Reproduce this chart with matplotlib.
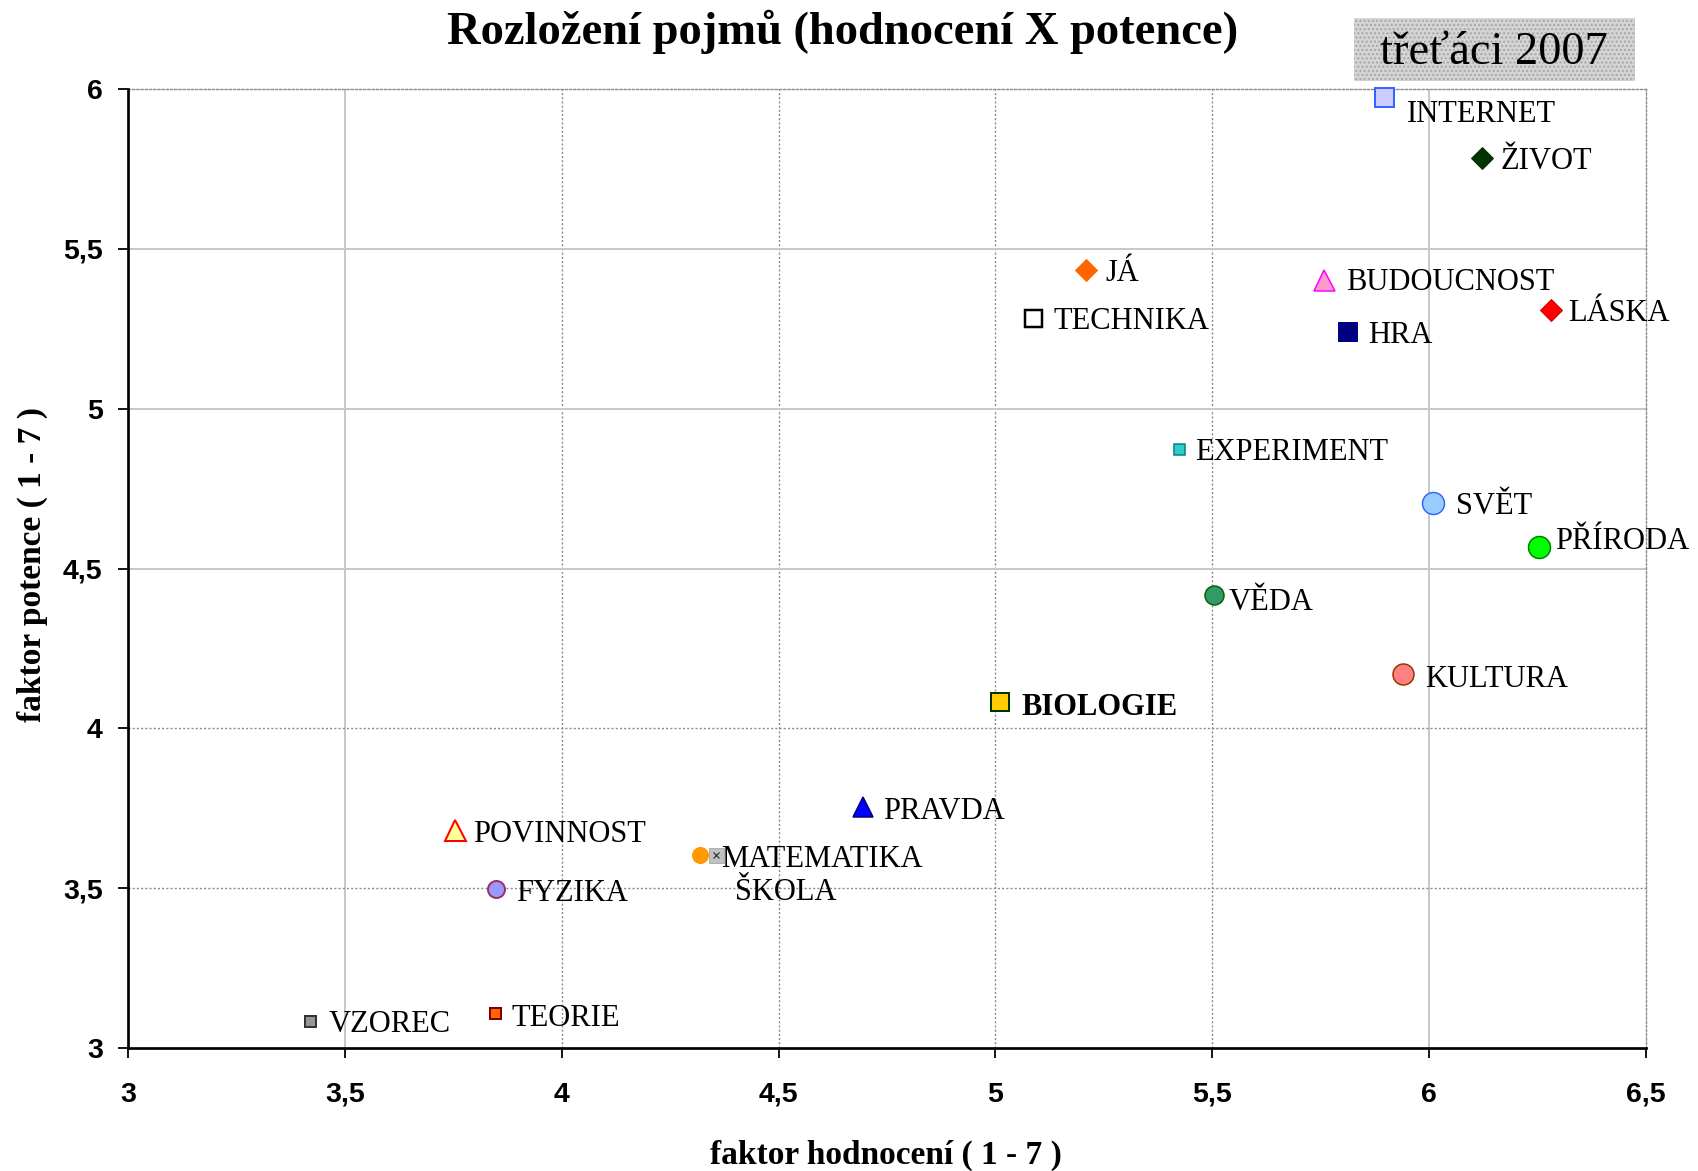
import matplotlib
matplotlib.use("Agg")
import matplotlib.pyplot as plt
from matplotlib.patches import Rectangle

# pojmy, faktor hodnoceni (x) a faktor potence (y)
concepts = ["INTERNET", "ŽIVOT", "JÁ", "TECHNIKA", "BUDOUCNOST", "LÁSKA", "HRA",
            "EXPERIMENT", "SVĚT", "PŘÍRODA", "VĚDA", "KULTURA", "BIOLOGIE",
            "PRAVDA", "POVINNOST", "MATEMATIKA", "ŠKOLA", "FYZIKA", "VZOREC", "TEORIE"]
hodnoceni = [5.895, 6.123, 5.208, 5.086, 5.758, 6.280, 5.810,
             5.423, 6.008, 6.253, 5.503, 5.940, 5.011,
             4.694, 3.754, 4.319, 4.355, 3.849, 3.420, 3.847]
potence = [5.976, 5.783, 5.434, 5.285, 5.403, 5.308, 5.244,
           4.875, 4.705, 4.566, 4.417, 4.169, 4.081,
           3.753, 3.681, 3.603, 3.603, 3.498, 3.085, 3.108]

x_ticks = [3, 3.5, 4, 4.5, 5, 5.5, 6, 6.5]
x_tick_labels = ["3", "3,5", "4", "4,5", "5", "5,5", "6", "6,5"]
y_ticks = [3, 3.5, 4, 4.5, 5, 5.5, 6]
y_tick_labels = ["3", "3,5", "4", "4,5", "5", "5,5", "6"]

title = "Rozložení pojmů (hodnocení X potence)"
subtitle = "třeťáci 2007"
x_label = "faktor hodnocení ( 1 - 7 )"
y_label = "faktor potence ( 1 - 7 )"

# marker look: (marker, size in px, face, edge, edge width px)
styles = [
    ("s", 19, "#ccccff", "#3366ff", 2.0),
    ("D", 15, "#003300", "#003300", 1.0),
    ("D", 15, "#ff6600", "#ff6600", 1.0),
    ("s", 17, "#ffffff", "#000000", 2.5),
    ("^", 21, "#ff99cc", "#ff00ff", 1.5),
    ("D", 15, "#ff0000", "#cc0000", 1.0),
    ("s", 19, "#000080", "#000080", 1.0),
    ("s", 11, "#33cccc", "#008080", 1.5),
    ("o", 22, "#99ccff", "#3366ff", 1.5),
    ("o", 22, "#00ff00", "#008000", 1.5),
    ("o", 19, "#339966", "#006600", 1.5),
    ("o", 21, "#ff8080", "#993300", 1.5),
    ("s", 18, "#ffcc00", "#003300", 2.0),
    ("^", 20, "#0000ff", "#000080", 1.5),
    ("^", 21, "#ffff99", "#ff0000", 2.0),
    ("o", 16, "#ff9900", "#ff9900", 1.0),
    ("s", 15, "#c0c0c0", "#b0b0b0", 1.0),
    ("o", 17, "#9999ff", "#993366", 2.0),
    ("s", 11, "#969696", "#333333", 2.0),
    ("s", 11, "#ff6600", "#800000", 2.0),
]
# label offsets from marker centre in pixels (dx, dy of the visual centre)
label_offsets = [(23, -15), (18, 0), (20, -1), (21, -1), (22, 0), (18, 0), (21, -2),
                 (16, -1), (23, -1), (16, 9), (15, -4), (22, -2), (21, -2),
                 (20, -1), (18, -1), (21, -1), (19, -34), (20, -2), (18, -1), (16, -2)]

px = 72 / 100  # px -> pt at dpi 100

fig = plt.figure(figsize=(16.99, 11.71), dpi=100)
ax = fig.add_axes([128 / 1699, 1 - 1048 / 1171, 1518 / 1699, 959 / 1171])
ax.set_xlim(3, 6.5)
ax.set_ylim(3, 6)

# gridlines, some look solid light gray, others dotted
x_grid_solid = {3.5: True, 4: False, 4.5: False, 5: False, 5.5: False, 6: True}
y_grid_solid = {3.5: False, 4: False, 4.5: True, 5: True, 5.5: True}
for xv, solid in x_grid_solid.items():
    if solid:
        ax.axvline(xv, color="#c8c8c8", lw=2 * px, zorder=1)
    else:
        ax.axvline(xv, color="#8c8c8c", lw=1.4 * px, ls=(0, (1.5, 1.5)), zorder=1)
for yv, solid in y_grid_solid.items():
    if solid:
        ax.axhline(yv, color="#c8c8c8", lw=2 * px, zorder=1)
    else:
        ax.axhline(yv, color="#8c8c8c", lw=1.4 * px, ls=(0, (1.5, 1.5)), zorder=1)

for side in ["top", "right"]:
    ax.spines[side].set_color("#8c8c8c")
    ax.spines[side].set_linewidth(1.4 * px)
    ax.spines[side].set_linestyle((0, (1.5, 1.5)))
for side in ["left", "bottom"]:
    ax.spines[side].set_color("black")
    ax.spines[side].set_linewidth(2.7 * px)
    ax.spines[side].set_zorder(5)

for i, name in enumerate(concepts):
    m, size, face, edge, ew = styles[i]
    ax.plot(hodnoceni[i], potence[i], marker=m, markersize=size * px,
            markerfacecolor=face, markeredgecolor=edge, markeredgewidth=ew * px,
            ls="none", clip_on=False, zorder=4)
    if name == "ŠKOLA":
        # small x pattern inside the gray square
        ax.plot(hodnoceni[i], potence[i], marker="x", markersize=6 * px,
                color="#333333", markeredgewidth=1.2 * px, ls="none", zorder=4)
    dx, dy = label_offsets[i]
    ax.annotate(name, (hodnoceni[i], potence[i]), xytext=(dx, dy - 10.5),
                textcoords="offset pixels", ha="left", va="baseline",
                family="Liberation Serif", fontsize=22,
                fontweight="bold" if name == "BIOLOGIE" else "normal",
                zorder=6, annotation_clip=False)

ax.set_xticks(x_ticks)
ax.set_xticklabels(x_tick_labels)
ax.set_yticks(y_ticks)
ax.set_yticklabels(y_tick_labels)
ax.tick_params(axis="both", direction="out", length=10 * px, width=1.8 * px,
               labelsize=20.5)
ax.tick_params(axis="x", pad=17)
ax.tick_params(axis="y", pad=11)
for lab in ax.get_xticklabels() + ax.get_yticklabels():
    lab.set_family("Liberation Sans")
    lab.set_fontweight("bold")

fig.text(843 / 1699, 1 - 44 / 1171, title, ha="center", va="baseline",
         family="Liberation Serif", fontweight="bold", fontsize=33.5)
fig.text(886 / 1699, 1 - 1155 / 1171, x_label, ha="center", va="center",
         family="Liberation Serif", fontweight="bold", fontsize=24)
fig.text(32 / 1699, 1 - 565 / 1171, y_label, ha="center", va="center",
         rotation=90, family="Liberation Serif", fontweight="bold", fontsize=24)

# gray box with the group name
box = Rectangle((1354 / 1699, 1 - 81 / 1171), 281 / 1699, 63 / 1171,
                transform=fig.transFigure, facecolor="#d4d4d4",
                edgecolor="#a6a6a6", hatch="....", linewidth=0)
fig.patches.append(box)
fig.text(1494 / 1699, 1 - 53 / 1171, subtitle, ha="center", va="center",
         family="Liberation Serif", fontsize=33.5)

fig.savefig("out.png", dpi=100)
